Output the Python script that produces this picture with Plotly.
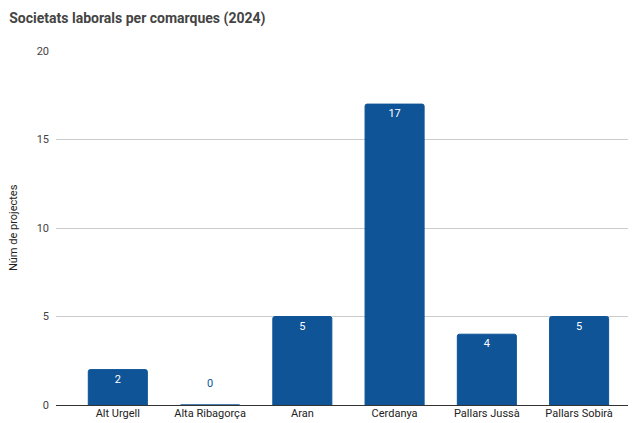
import plotly.graph_objects as go

comarques = ["Alt Urgell", "Alta Ribagorça", "Aran", "Cerdanya", "Pallars Jussà", "Pallars Sobirà"]
societats = [2, 0, 5, 17, 4, 5]

pos = ["inside" if v > 0 else "outside" for v in societats]
# zero bar label sits a bit higher in the original
labels = [str(v) if v > 0 else "0<br><span style='font-size:3px'> </span>" for v in societats]

fig = go.Figure(go.Bar(
    x=comarques, y=societats,
    text=labels,
    textposition=pos,
    insidetextanchor="end",
    insidetextfont=dict(color="white", size=11),
    outsidetextfont=dict(color="#0e5497", size=11),
    marker=dict(color="#0e5497", cornerradius=2, line=dict(width=1, color="#0e5497")),
    width=0.64,
    cliponaxis=False,
))

# page body adds an 8px margin, so the figure is a bit smaller than the window
fig.update_layout(
    width=630, height=415,
    margin=dict(l=48, r=10, t=43, b=18),
    paper_bgcolor="white", plot_bgcolor="white",
    font=dict(family="Roboto", size=11, color="#444"),
    title=dict(text="<b>Societats laborals per comarques (2024)</b>",
               xref="container", x=0.002, xanchor="left",
               yref="container", y=0.976, yanchor="middle",
               font=dict(size=14, color="#444")),
    showlegend=False,
)
fig.update_xaxes(range=[-0.67, 5.53], showgrid=False, ticks="", automargin=False,
                 tickfont=dict(color="#222", size=11))
fig.update_yaxes(range=[0, 20], tickvals=[0, 5, 10, 15, 20], gridcolor="#cccccc",
                 zeroline=True, zerolinecolor="#333", zerolinewidth=1,
                 ticks="", ticklabelstandoff=6, automargin=False)
# axis title as annotation so the margins stay put
fig.add_annotation(text="Núm de projectes", xref="paper", yref="paper",
                   x=-0.075, y=0.5, xanchor="center", yanchor="middle",
                   textangle=-90, showarrow=False,
                   font=dict(size=11, color="#222"))

fig.write_html("out.html")
